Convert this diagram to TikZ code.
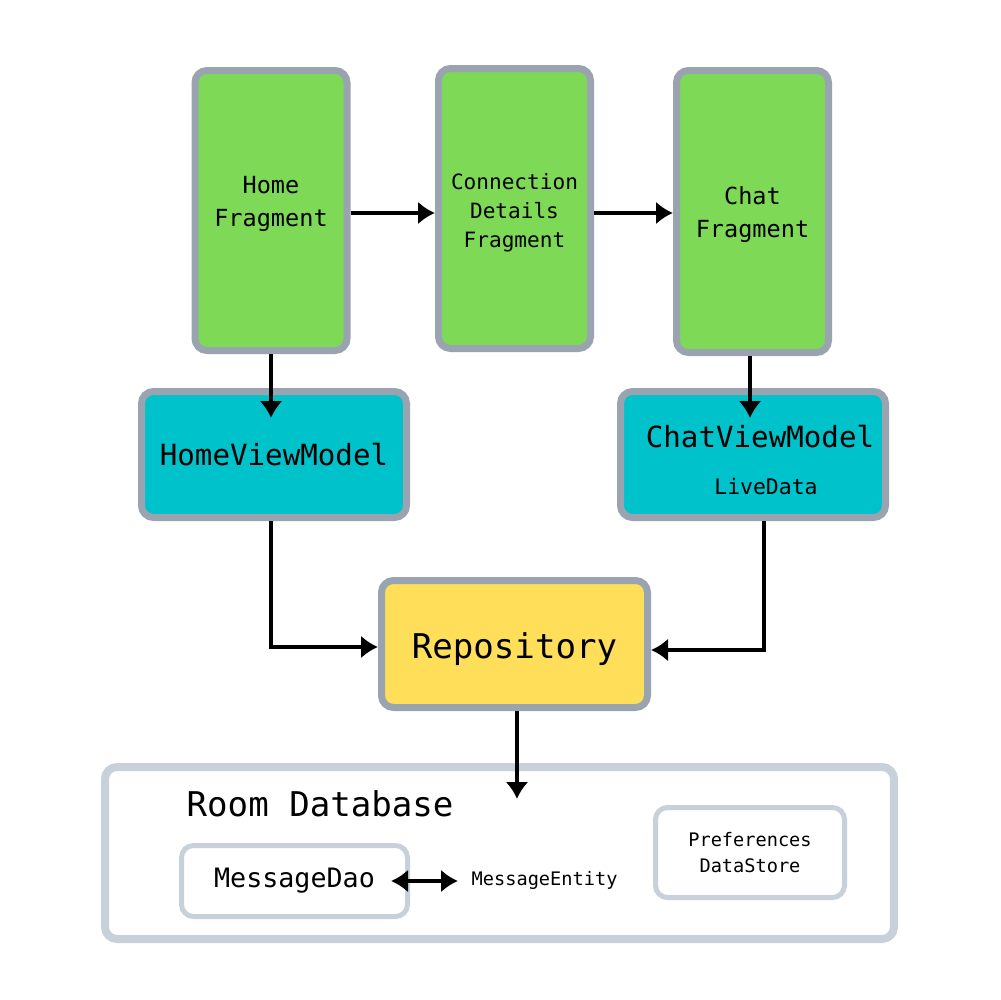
\documentclass[tikz,border=0pt]{standalone}
\usepackage{fontspec}
\setmainfont{DejaVu Sans Mono}
\usepackage{xcolor}
\usetikzlibrary{positioning, arrows.meta, calc}
\definecolor{frame}{HTML}{9AA4B1}
\definecolor{lightframe}{HTML}{C8D1DA}
\definecolor{fraggreen}{HTML}{7ED957}
\definecolor{vmteal}{HTML}{00C2CB}
\definecolor{repoyellow}{HTML}{FFDE59}
\newcommand{\fs}[2]{\fontsize{#1}{#2}\selectfont}

\begin{document}
\begin{tikzpicture}[
  x=0.1mm, y=-0.1mm, >={Latex[length=1.7mm,width=2.3mm]},
  box/.style={draw=frame, line width=0.7mm, rounded corners=1.2mm,
              align=center, inner sep=0pt},
  frag/.style={box, fill=fraggreen, minimum width=15.2mm, minimum height=28mm},
  vm/.style={box, fill=vmteal, minimum width=26.5mm, minimum height=12.6mm},
  repo/.style={box, fill=repoyellow, minimum width=26.6mm, minimum height=12.7mm},
  store/.style={box, draw=lightframe, fill=white},
  txt/.style={align=center, inner sep=0pt},
  flow/.style={->, line width=0.4mm},
]
\fill[white] (0,0) rectangle (1000,1000);

% --- fragments ---
\node[frag, label={[txt, font=\fs{6.7}{9.4}, yshift=0.7mm]center:Home\\Fragment}]
  (home) at (271,210.5) {};
\node[frag, label={[txt, font=\fs{6.0}{8.25}, yshift=-0.4mm]center:Connection\\Details\\Fragment}]
  (conn) at (514.5,208.5) {};
\node[frag, minimum height=28.2mm, label={[txt, font=\fs{6.7}{9.4}, yshift=-0.3mm]center:Chat\\Fragment}]
  (chat) at (752.5,211.5) {};

\draw[flow] ([yshift=-0.25mm]home.east) -- ([yshift=-0.25mm]home.east -| conn.west);
\draw[flow] ([yshift=-0.25mm]home.east -| conn.east) -- ([yshift=-0.25mm]home.east -| chat.west);

% --- view models ---
\node[vm, font=\fs{8.3}{10}] (homevm) at (274,454.5) {HomeViewModel};
\node[vm, label={[txt, xshift=0.7mm, yshift=-0.55mm]center:{\fs{8.3}{10}ChatViewModel}\\[1.3pt]\hspace*{1.2mm}{\fs{6.1}{7}LiveData}}]
  (chatvm) at (753,454.5) {};

\draw[flow] (home.south) -- ++(0,64);
\draw[flow] ([xshift=-0.25mm]chat.south) -- ++(0,62);

% --- repository ---
\node[repo, label={[txt, font=\fs{9.7}{11}, yshift=-0.55mm]center:Repository}]
  (repo) at (514.5,644) {};

\draw[flow] ([xshift=-0.3mm]homevm.south) |- ([yshift=-0.3mm]repo.west);
\draw[flow] ([xshift=1.1mm]chatvm.south) |- ([yshift=-0.6mm]repo.east);

% --- storage ---
\node[store, line width=0.8mm, minimum width=78.9mm, minimum height=17.2mm]
  (room) at (499.5,853) {};
\node[font=\fs{9.7}{11}, inner sep=0pt, anchor=west] (roomlbl) at (186,804) {Room Database};
\node[store, line width=0.5mm, minimum width=22.6mm, minimum height=7.1mm,
      font=\fs{7.6}{9}] (dao) at (294.5,881) {\raisebox{-0.6mm}{MessageDao}};
\node[font=\fs{5.3}{7}, inner sep=0pt, anchor=west] (entity) at (471,880) {MessageEntity};
\node[store, line width=0.5mm, minimum width=18.9mm, minimum height=9mm,
      font=\fs{5.3}{7.4}] (prefs) at (750,852.5) {Preferences\\DataStore};

\draw[flow] ([xshift=0.25mm]repo.south) -- ++(0,88);
\draw[flow, <->] ([xshift=-1.9mm]dao.east) -- ([xshift=-1.3mm]dao.east -| entity.west);
\end{tikzpicture}
\end{document}
